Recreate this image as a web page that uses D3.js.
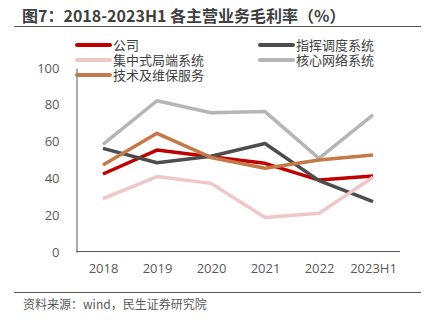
<!DOCTYPE html>
<html>
<head>
<meta charset="utf-8">
<script src="https://cdn.jsdelivr.net/npm/d3@7"></script>
<style>
  body { margin: 0; background: #fff; }
  svg { display: block; font-family: "Noto Sans CJK SC", "Noto Sans", sans-serif; }
</style>
</head>
<body>
<div class="canvas"></div>
<script>
// data
const years = ['2018', '2019', '2020', '2021', '2022', '2023H1']
const company = [42.4, 55.4, 51.8, 48.2, 39.1, 41.3]
const dispatch = [56.3, 48.5, 52.0, 59.0, 38.8, 27.4]
const central = [29.0, 41.0, 37.3, 18.7, 21.0, 40.6]
const coreNet = [58.5, 82.2, 75.7, 76.3, 50.9, 74.5]
const service = [47.3, 64.5, 51.4, 45.5, 50.0, 52.7]
const yTicks = [0, 20, 40, 60, 80, 100]

const series = [
  { name: '公司', values: company, color: '#C00000' },
  { name: '指挥调度系统', values: dispatch, color: '#4D4D4D' },
  { name: '集中式局端系统', values: central, color: '#F0C6C6' },
  { name: '核心网络系统', values: coreNet, color: '#B5B5B5' },
  { name: '技术及维保服务', values: service, color: '#C47A48' }
]

const W = 427, H = 323
const plot = { left: 76, right: 400, top: 68, bottom: 252 }

const svg = d3.select('.canvas').append('svg')
  .attr('width', W).attr('height', H)

// title + rules
svg.append('text')
  .attr('x', 22).attr('y', 22)
  .attr('font-size', 16).attr('font-weight', 'bold')
  .attr('fill', '#404040')
  .text('图7：2018-2023H1 各主营业务毛利率（%）')
svg.append('line')
  .attr('x1', 14).attr('x2', 421).attr('y1', 26.5).attr('y2', 26.5)
  .attr('stroke', '#595959').attr('stroke-width', 1)
svg.append('line')
  .attr('x1', 14).attr('x2', 421).attr('y1', 292.5).attr('y2', 292.5)
  .attr('stroke', '#595959').attr('stroke-width', 1)
svg.append('text')
  .attr('x', 23).attr('y', 309)
  .attr('font-size', 12).attr('fill', '#595959')
  .text('资料来源：wind，民生证券研究院')

// scales
const x = d3.scalePoint().domain(years)
  .range([plot.left, plot.right]).padding(0.5)
const y = d3.scaleLinear().domain([0, 100])
  .range([plot.bottom, plot.top])

// axes
const yAxis = svg.append('g')
  .attr('transform', `translate(${plot.left + 0.5},0)`)
  .call(d3.axisLeft(y).tickValues(yTicks).tickSize(0).tickPadding(17))
yAxis.select('.domain').attr('stroke', '#595959')
yAxis.selectAll('text').attr('font-size', 13).attr('fill', '#595959')
  .attr('font-family', '"Open Sans", "Noto Sans", sans-serif')

const xAxis = svg.append('g')
  .attr('transform', `translate(0,${plot.bottom - 0.5})`)
  .call(d3.axisBottom(x).tickSize(0).tickPadding(12))
xAxis.select('.domain').attr('stroke', '#595959')
  .attr('d', `M${plot.left},0H${plot.right}`)
xAxis.selectAll('text').attr('font-size', 13).attr('fill', '#595959')
  .attr('font-family', '"Open Sans", "Noto Sans", sans-serif')

// lines
const line = d3.line()
  .x((d, i) => x(years[i]))
  .y(d => y(d))

svg.append('g').selectAll('path')
  .data(series)
  .join('path')
  .attr('fill', 'none')
  .attr('stroke', d => d.color)
  .attr('stroke-width', 3.5)
  .attr('stroke-linejoin', 'round')
  .attr('d', d => line(d.values))

// legend, rows are tight like the source
const legendPos = [
  { x: 77, y: 45 }, { x: 260, y: 45 },
  { x: 77, y: 60 }, { x: 260, y: 60 },
  { x: 77, y: 75 }
]
const legend = svg.append('g').selectAll('g')
  .data(series)
  .join('g')
  .attr('transform', (d, i) => `translate(${legendPos[i].x},${legendPos[i].y})`)
legend.append('line')
  .attr('x1', 0).attr('x2', 33)
  .attr('stroke', d => d.color).attr('stroke-width', 4)
  .attr('stroke-linecap', 'round')
legend.append('text')
  .attr('x', 36).attr('dy', '0.36em')
  .attr('font-size', 13).attr('fill', '#404040')
  .text(d => d.name)
</script>
</body>
</html>
